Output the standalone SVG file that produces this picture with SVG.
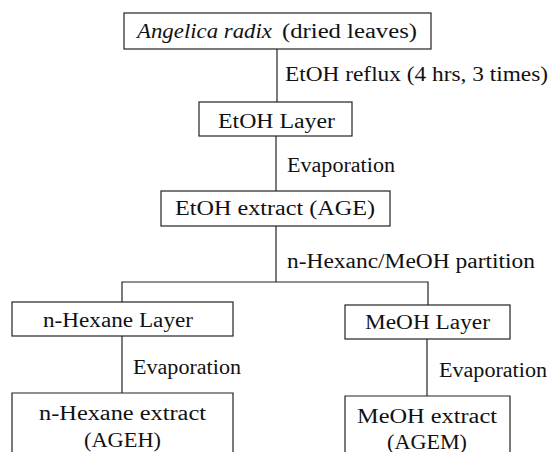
<svg xmlns="http://www.w3.org/2000/svg" width="553" height="452" viewBox="0 0 553 452">
<style>
.box{fill:#fff;stroke:#222;stroke-width:1.2}
.ln{fill:none;stroke:#222;stroke-width:1.2}
text{font-family:"Liberation Serif","Times New Roman",serif;font-size:20px;fill:#111}
</style>
<rect width="553" height="452" fill="#fff"/>
<g id="connectors">
<line class="ln" x1="277" y1="49" x2="277" y2="102"/>
<line class="ln" x1="276" y1="136" x2="276" y2="191"/>
<line class="ln" x1="276" y1="226" x2="276" y2="282"/>
<polyline class="ln" points="122,302 122,282 428,282 428,305"/>
<line class="ln" x1="122" y1="336" x2="122" y2="393"/>
<line class="ln" x1="427" y1="339" x2="427" y2="396"/>
<text x="285" y="81" textLength="263" lengthAdjust="spacingAndGlyphs">EtOH reflux (4 hrs, 3 times)</text>
<text x="287" y="172" textLength="108" lengthAdjust="spacingAndGlyphs">Evaporation</text>
<text x="287" y="268" textLength="248" lengthAdjust="spacingAndGlyphs">n-Hexanc/MeOH partition</text>
<text x="133" y="374" textLength="108" lengthAdjust="spacingAndGlyphs">Evaporation</text>
<text x="439" y="377" textLength="108" lengthAdjust="spacingAndGlyphs">Evaporation</text>
</g>
<g id="angelica">
<rect class="box" x="124" y="13" width="307" height="36"/>
<text x="137" y="38" font-style="italic" textLength="135" lengthAdjust="spacingAndGlyphs">Angelica radix</text>
<text x="282" y="38" textLength="135" lengthAdjust="spacingAndGlyphs">(dried leaves)</text>
</g>
<g id="etoh-layer">
<rect class="box" x="199" y="102" width="153" height="34"/>
<text x="218" y="128" textLength="117" lengthAdjust="spacingAndGlyphs">EtOH Layer</text>
</g>
<g id="etoh-extract">
<rect class="box" x="161" y="191" width="229" height="35"/>
<text x="175" y="215" textLength="200" lengthAdjust="spacingAndGlyphs">EtOH extract (AGE)</text>
</g>
<g id="hexane-layer">
<rect class="box" x="12" y="302" width="221" height="34"/>
<text x="43" y="327" textLength="150" lengthAdjust="spacingAndGlyphs">n-Hexane Layer</text>
</g>
<g id="meoh-layer">
<rect class="box" x="345" y="305" width="165" height="34"/>
<text x="365" y="329" textLength="125" lengthAdjust="spacingAndGlyphs">MeOH Layer</text>
</g>
<g id="hexane-extract">
<path class="box" d="M12,460 V393 H233 V460"/>
<text x="39" y="420" textLength="167" lengthAdjust="spacingAndGlyphs">n-Hexane extract</text>
<text x="84" y="447" textLength="77" lengthAdjust="spacingAndGlyphs">(AGEH)</text>
</g>
<g id="meoh-extract">
<path class="box" d="M345,460 V396 H510 V460"/>
<text x="357" y="423" textLength="140" lengthAdjust="spacingAndGlyphs">MeOH extract</text>
<text x="387" y="449" textLength="80" lengthAdjust="spacingAndGlyphs">(AGEM)</text>
</g>
</svg>
